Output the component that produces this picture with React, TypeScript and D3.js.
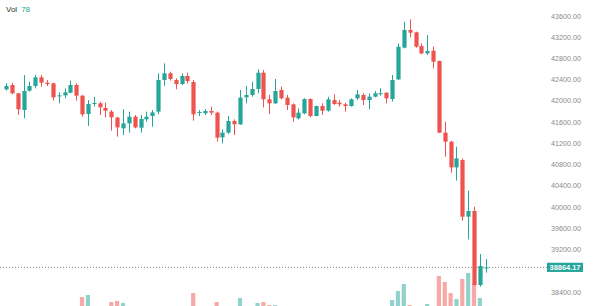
import React from 'react';
import * as d3 from 'd3';

const opens = [42218,42300,42143,41829,42193,42281,42444,42344,42331,42100,42105,42155,42300,42099,41754,41948,41955,41867,41798,41685,41484,41578,41703,41496,41653,41716,41798,42394,42520,42394,42319,42470,42357,41779,41766,41810,41779,41314,41402,41622,41559,42068,42112,42225,42532,42030,41955,42206,42061,41936,41672,41766,42036,41716,41904,41816,42017,41967,41936,41904,42049,42112,42017,42080,42140,42155,42036,42406,43003,43336,43292,43034,42896,42946,42752,41402,41232,40748,40887,39819,39926,38532,38850];
const highs = [42331,42344,42155,42488,42363,42488,42488,42394,42344,42162,42237,42382,42331,42112,42017,42080,41986,41967,41829,41703,41842,41798,41735,41735,41798,41829,42520,42708,42551,42426,42520,42532,42394,41829,41842,41892,41798,41465,41716,41653,42206,42281,42363,42595,42583,42112,42413,42269,42112,41955,41860,42049,42049,41910,41955,42080,42124,42017,41967,42049,42206,42143,42143,42187,42237,42160,42488,43085,43493,43537,43304,43085,43242,43022,42760,41609,41250,41138,40918,40309,40007,39116,39021];
const lows = [42193,42124,41735,41672,42174,42237,42269,42281,42005,41955,42049,42143,42005,41703,41528,41892,41735,41691,41440,41327,41358,41402,41484,41402,41609,41515,41747,42281,42382,42218,42300,42331,41628,41716,41735,41735,41232,41201,41377,41358,41546,41955,42080,42143,41879,41754,41942,42030,41829,41609,41653,41747,41691,41710,41735,41798,41923,41892,41798,41892,42017,41923,41842,42068,42099,41955,41986,42394,42990,43198,43003,42877,42865,42614,41395,40949,40648,40497,39744,39392,38520,38500,38764];
const closes = [42281,42143,41842,42187,42281,42444,42344,42319,42068,42105,42162,42300,42099,41747,41942,41961,41879,41816,41691,41502,41578,41703,41502,41660,41703,41785,42394,42520,42413,42319,42470,42375,41747,41791,41810,41779,41308,41402,41622,41559,42061,42112,42225,42532,42030,41955,42187,42049,41923,41691,41779,42036,41716,41904,41816,42030,41942,41936,41904,42030,42124,42017,42080,42143,42146,42049,42394,43022,43336,43286,43022,42896,42940,42739,41402,41232,40748,40918,39819,39926,38532,38890,38864.17];
const volumes = [420,380,560,610,330,450,300,260,480,290,310,400,520,1150,1250,350,420,500,900,950,850,560,430,470,280,390,640,600,330,360,410,380,1350,300,250,340,900,520,610,380,1100,420,560,850,900,750,750,440,410,580,360,530,620,390,350,460,300,260,280,340,410,370,430,290,250,380,1000,1450,1800,750,640,560,800,650,2200,1900,1350,1050,2050,2350,1850,1100,78];
const priceTicks = [43600,43200,42800,42400,42000,41600,41200,40800,40400,40000,39600,39200,38400];
const lastPrice = 38864.17;
const volTitle = 'Vol';
const lastVolume = 78;

const UP = '#26a69a';
const DOWN = '#ef5350';
const UP_VOL = 'rgba(38,166,154,0.5)';
const DOWN_VOL = 'rgba(239,83,80,0.5)';
const FONT = '"Liberation Sans", Arial, sans-serif';

export default function App() {
  const n = opens.length;
  const x = d3.scaleLinear().domain([0, n - 1]).range([6, 485.7]);
  const y = d3.scaleLinear().domain([38400, 43600]).range([292, 16]);
  const v = d3.scaleLinear().domain([0, d3.max(volumes) as number]).range([320, 273]);
  const bodyW = 4.2;
  const lastY = y(lastPrice);

  return (
    <svg width={600} height={306} style={{ position: 'absolute', left: 0, top: 0, background: '#fff' }}>
      <rect x={0} y={0} width={600} height={306} fill="#ffffff" />
      {volumes.map((vol, i) => {
        const up = closes[i] >= opens[i];
        return (
          <rect key={'v' + i} x={x(i) - bodyW / 2} y={v(vol)} width={bodyW} height={320 - v(vol)}
            fill={up ? UP_VOL : DOWN_VOL} />
        );
      })}
      <line x1={0} x2={547} y1={lastY} y2={lastY} stroke="#888" strokeWidth={1} strokeDasharray="1,2" />
      {opens.map((o, i) => {
        const c = closes[i];
        const up = c >= o;
        const col = up ? UP : DOWN;
        const cx = Math.round(x(i)) + 0.5;
        const top = y(Math.max(o, c));
        const bot = y(Math.min(o, c));
        return (
          <g key={'c' + i}>
            <line x1={cx} x2={cx} y1={y(highs[i])} y2={y(lows[i])} stroke={col} strokeWidth={1} />
            <rect x={cx - bodyW / 2} y={top} width={bodyW} height={Math.max(1, bot - top)} fill={col} />
          </g>
        );
      })}
      {priceTicks.map((t) => (
        <text key={t} x={581} y={y(t) + 2.5} textAnchor="end" fontFamily={FONT} fontSize={7.2} fill="#8a8a8a">
          {d3.format('.2f')(t)}
        </text>
      ))}
      <rect x={547} y={lastY - 4.6} width={36} height={9.2} fill={UP} />
      <text x={565} y={lastY + 2.6} textAnchor="middle" fontFamily={FONT} fontSize={7.4} fontWeight="bold" fill="#ffffff">
        {d3.format('.2f')(lastPrice)}
      </text>
      <text x={6} y={12} fontFamily={FONT} fontSize={8} fill="#333">
        {volTitle}
        <tspan dx={4} fill={UP}>{lastVolume}</tspan>
      </text>
    </svg>
  );
}
